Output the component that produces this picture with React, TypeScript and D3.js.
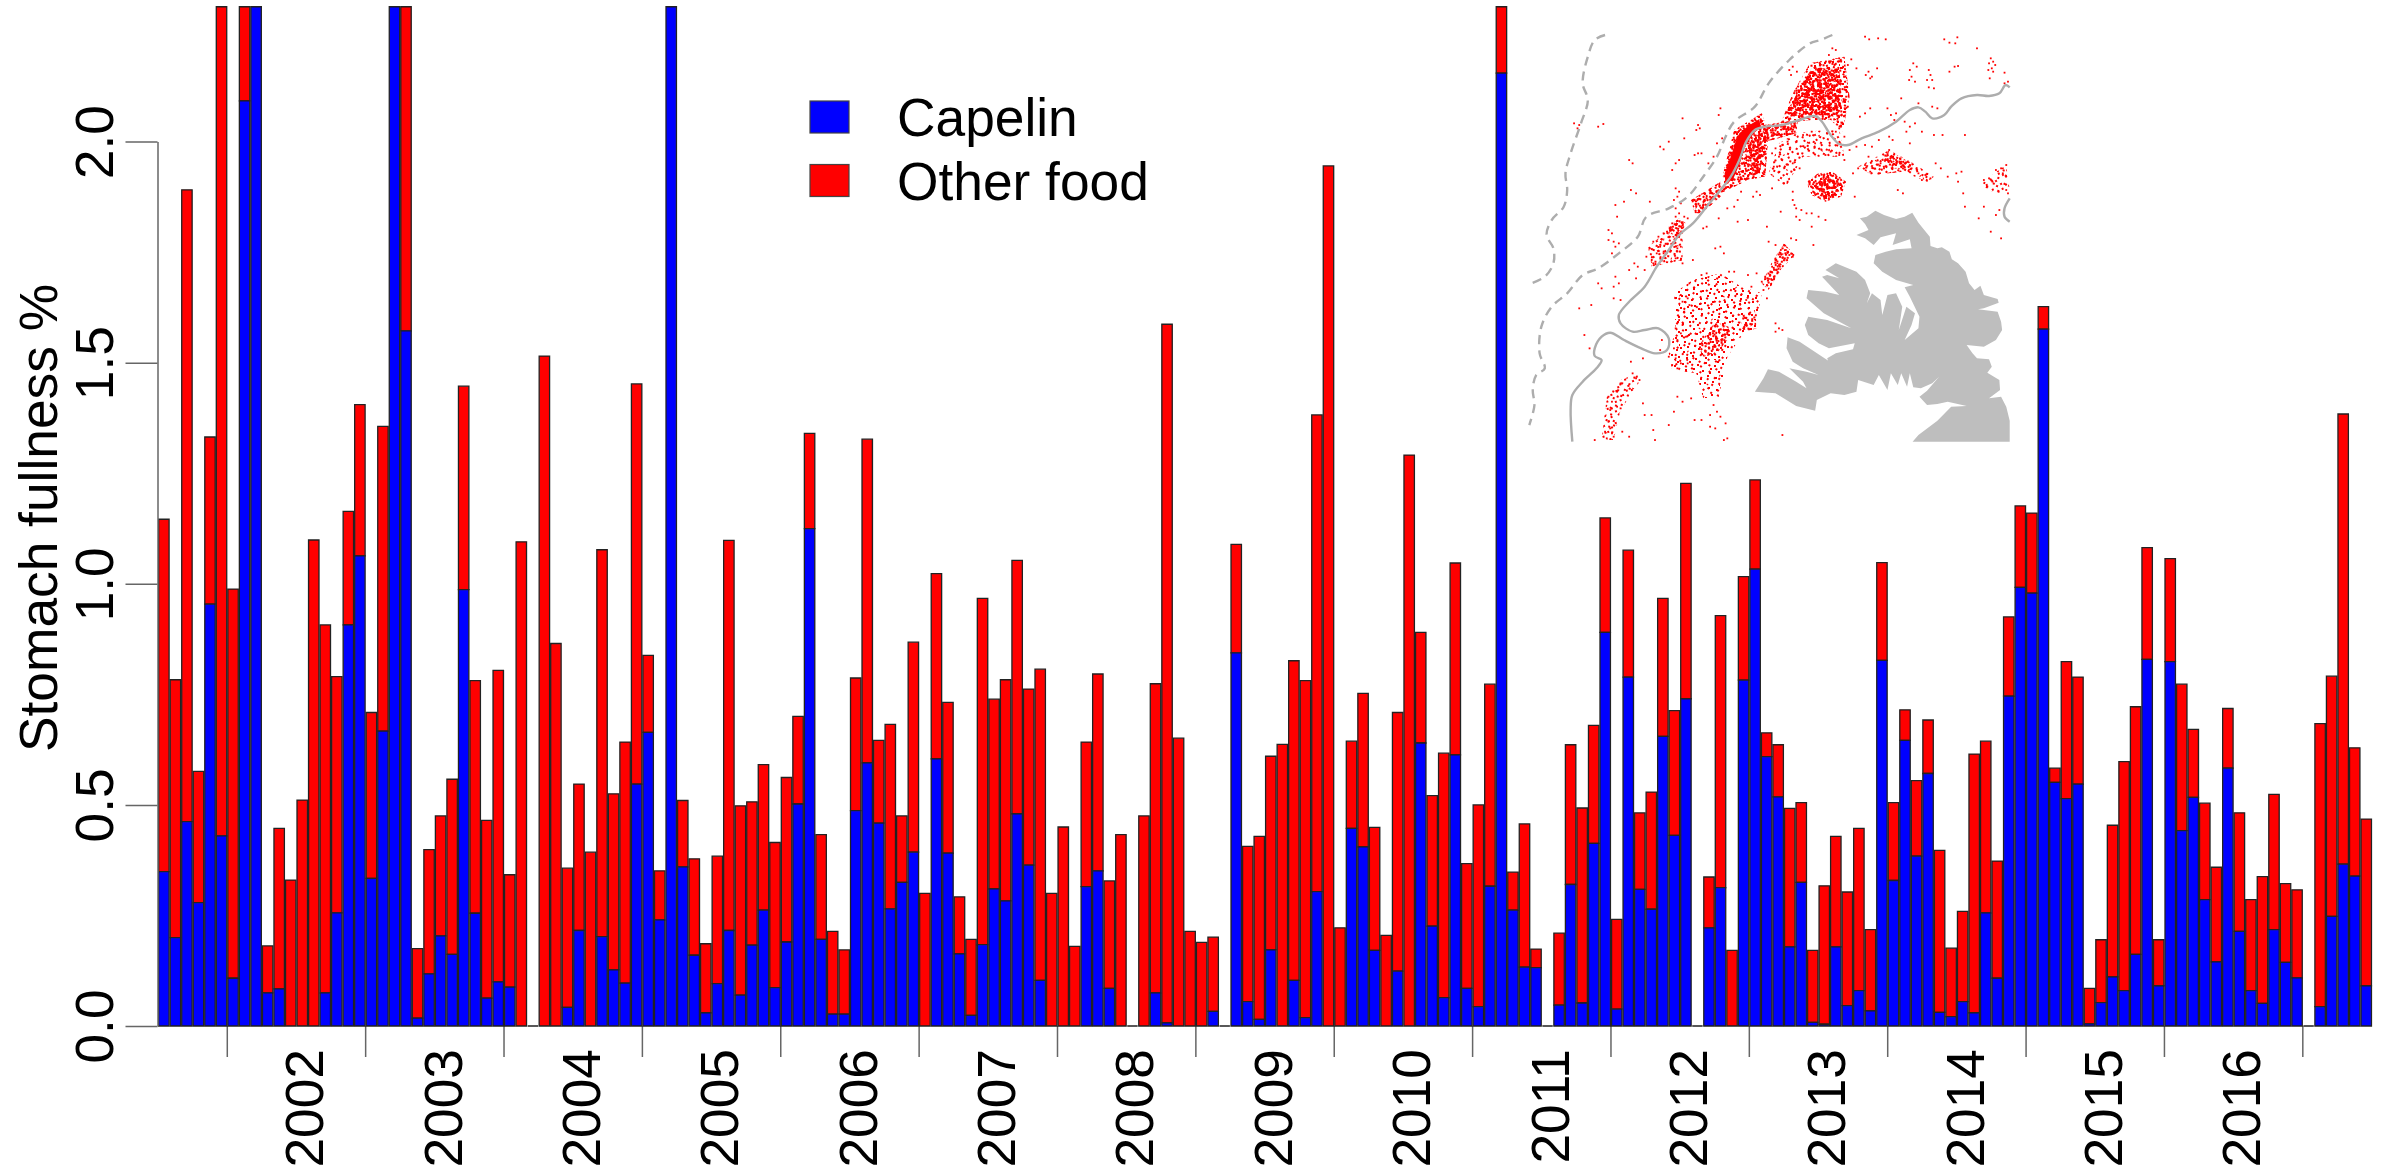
import React, { useEffect, useRef } from 'react';
import * as d3 from 'd3';

// monthly means, Jul 2001 - Jun 2017. Bars that run off the top are read at the crop line (2.305)
const capelin = [
  .349, .2, .462, .279, .954, .43, .108, 2.092, 2.305, .075, .084, 0,
  0, 0, .075, .256, .907, 1.063, .334, .667, 2.305, 1.572, .018, .118,
  .204, .162, .987, .255, .063, .1, .088, 0, 0, 0, 0, .042,
  .216, 0, .202, .127, .097, .547, .664, .24, 2.305, .36, .16, .03,
  .096, .216, .07, .183, .262, .087, .19, .502, 1.125, .196, .027, .027,
  .487, .595, .459, .265, .325, .393, 0, .604, .391, .163, .024, .184,
  .31, .283, .48, .364, .103, 0, 0, 0, .315, .351, .085, 0,
  0, 0, .075, .007, 0, 0, 0, .033, 0, .844, .055, .015,
  .172, 0, .103, .019, .304, 0, 0, .447, .405, .171, 0, .124,
  0, .64, .226, .064, .613, .085, .044, .316, 2.155, .262, .133, .132,
  0, .047, .32, .052, .413, .89, .038, .789, .309, .264, .655, .431,
  .74, 0, .222, .313, 0, .782, 1.033, .609, .518, .179, .325, .008,
  .004, .179, .046, .08, .034, .827, .329, .646, .384, .571, .031, .021,
  .055, .03, .256, .108, .746, .992, .979, 1.576, .551, .514, .547, .005,
  .053, .111, .08, .162, .829, .091, .824, .442, .517, .286, .145, .583,
  .214, .08, .051, .218, .144, .109, 0, .044, .248, .366, .339, .091,
];

const totalFullness = [
  1.146, .783, 1.891, .576, 1.332, 2.305, .988, 2.305, 2.305, .181, .447, .33,
  .511, 1.099, .907, .79, 1.164, 1.405, .709, 1.356, 2.305, 2.305, .175, .399,
  .475, .558, 1.447, .781, .465, .804, .342, 1.095, 0, 1.515, .865, .357,
  .547, .393, 1.077, .525, .642, 1.452, .838, .351, 2.305, .51, .378, .186,
  .384, 1.098, .498, .507, .591, .415, .562, .7, 1.34, .433, .214, .172,
  .787, 1.327, .646, .682, .475, .868, .3, 1.023, .732, .292, .196, .967,
  .739, .783, 1.053, .762, .807, .3, .45, .18, .642, .796, .328, .433,
  0, .475, .774, 1.587, .651, .214, .189, .201, 0, 1.089, .406, .429,
  .61, .637, .826, .781, 1.382, 1.945, .222, .644, .752, .449, .205, .709,
  1.291, .89, .521, .617, 1.047, .367, .5, .773, 2.305, .348, .457, .174,
  0, .21, .636, .493, .68, 1.149, .241, 1.076, .482, .529, .967, .713,
  1.227, 0, .337, .928, .171, 1.016, 1.235, .663, .636, .492, .505, .171,
  .317, .429, .303, .447, .218, 1.048, .505, .715, .555, .692, .397, .176,
  .259, .615, .644, .373, .925, 1.176, 1.16, 1.627, .583, .824, .789, .085,
  .195, .454, .598, .722, 1.082, .195, 1.057, .773, .671, .504, .359, .718,
  .482, .286, .338, .524, .322, .308, 0, .684, .791, 1.384, .629, .468,
];

const yearLabels = ['2002', '2003', '2004', '2005', '2006', '2007', '2008', '2009', '2010', '2011', '2012', '2013', '2014', '2015', '2016'];
const yearStartMonths = [6, 18, 30, 42, 54, 66, 78, 90, 102, 114, 126, 138, 150, 162, 174, 186];
const yTicks = [0, 0.5, 1, 1.5, 2];
const legendItems = ['Capelin', 'Other food'];
const legendColors = ['#0000ff', '#ff0000'];

// inset map, all in map grid units
const coastline: [number, number][] = [
  [1045, 655], [1060, 672], [1070, 690], [1035, 705], [1060, 715], [1085, 735], [1105, 712], [1150, 700], [1140, 735], [1190, 718], [1195, 745], [1150, 748], [1120, 755], [1090, 765], [1085, 790], [1110, 815], [1150, 840], [1200, 855], [1175, 862], [1190, 890], [1218, 950], [1215, 985], [1175, 1020], [1195, 975], [1205, 940], [1180, 920], [1158, 990], [1168, 920], [1150, 880], [1125, 885], [1110, 945], [1105, 900], [1080, 880], [1065, 910], [1075, 880], [1060, 840], [1035, 815], [975, 790], [945, 810], [985, 835], [950, 825], [935, 830], [985, 885], [945, 875], [895, 870], [890, 895], [940, 940], [1020, 985], [950, 960], [895, 950], [885, 975], [895, 1005], [925, 1030], [955, 1045], [1030, 1030], [1025, 1048], [975, 1060], [950, 1075], [960, 1105], [985, 1105], [950, 1080], [870, 1025], [835, 1012], [832, 1045], [850, 1085], [880, 1105], [925, 1125], [890, 1115], [840, 1105], [880, 1145], [890, 1165], [860, 1145], [810, 1115], [778, 1108], [765, 1135], [740, 1175], [800, 1180], [860, 1218], [915, 1232], [920, 1200], [960, 1180], [1000, 1185], [1035, 1175], [1040, 1140], [1085, 1155], [1100, 1125], [1125, 1170], [1135, 1120], [1155, 1155], [1165, 1120], [1182, 1160], [1190, 1120], [1200, 1162], [1222, 1165], [1255, 1150], [1275, 1130], [1240, 1172], [1218, 1190], [1240, 1215], [1270, 1212], [1300, 1205], [1355, 1218], [1310, 1220], [1270, 1262], [1215, 1305], [1198, 1325], [1480, 1325], [1480, 1262], [1470, 1220], [1455, 1190], [1420, 1195], [1452, 1170], [1450, 1140], [1415, 1118], [1428, 1100], [1420, 1078], [1385, 1075], [1372, 1060], [1355, 1035], [1405, 1040], [1440, 1020], [1458, 990], [1455, 965], [1445, 935], [1388, 928], [1405, 925], [1448, 908], [1445, 897], [1405, 885], [1395, 857], [1378, 870], [1362, 850], [1352, 815], [1330, 790], [1312, 778], [1305, 755], [1283, 742], [1270, 745], [1250, 738], [1248, 710], [1232, 690], [1215, 668], [1197, 638], [1175, 650], [1150, 657], [1115, 645], [1090, 632], [1065, 650],
];
const shelfContour: [number, number][] = [
  [1480, 262], [1468, 255], [1450, 280], [1420, 288], [1385, 285], [1340, 295], [1310, 320], [1290, 345], [1255, 355], [1235, 335], [1215, 322], [1190, 330], [1150, 365], [1100, 395], [1050, 415], [1010, 435], [985, 432], [960, 405], [935, 365], [915, 348], [870, 360], [820, 375], [770, 380], [740, 390], [715, 425], [695, 480], [670, 530], [640, 570], [600, 620], [560, 670], [520, 705], [490, 750], [455, 800], [420, 860], [375, 905], [345, 945], [350, 970], [385, 995], [420, 990], [460, 985], [490, 1015], [485, 1050], [450, 1060], [410, 1045], [360, 1020], [320, 998], [295, 1010], [275, 1045], [275, 1068], [295, 1080], [280, 1105], [240, 1145], [210, 1185], [205, 1230], [210, 1325],
];
const shelfContourEast: [number, number][] = [[1480, 595], [1465, 625], [1465, 650], [1480, 665]];
const dashedOuter: [number, number][] = [
  [305, 105], [275, 120], [255, 170], [240, 250], [255, 300], [235, 370], [205, 460], [190, 520], [195, 570], [185, 620], [150, 660], [135, 705], [155, 745], [155, 790], [130, 830], [85, 852],
];
const dashedInner: [number, number][] = [
  [965, 105], [930, 120], [900, 130], [840, 180], [780, 250], [740, 320], [680, 365], [655, 410], [630, 470], [590, 530], [545, 590], [490, 625], [425, 650], [400, 710], [345, 760], [285, 805], [240, 825], [195, 880], [150, 920], [120, 980], [115, 1060], [130, 1105], [105, 1125], [95, 1170], [100, 1215], [85, 1275],
];

// areas of the station cloud where single fixes can't be told apart, and how thick each one looks
const cloudAreas: [number, number][][] = [
  [[505, 880], [560, 840], [640, 820], [700, 860], [760, 880], [745, 960], [700, 1010], [660, 1070], [635, 1190], [590, 1195], [570, 1120], [500, 1110], [490, 1060], [510, 990]],
  [[1040, 500], [1130, 450], [1200, 490], [1260, 530], [1240, 545], [1170, 515], [1080, 525]],
  [[310, 1190], [350, 1140], [400, 1120], [405, 1145], [350, 1230], [330, 1320], [295, 1320]],
  [[1405, 540], [1470, 495], [1480, 570], [1440, 580], [1400, 560]],
  [[810, 430], [860, 400], [985, 385], [1000, 470], [880, 470], [830, 560], [780, 520]],
  [[430, 740], [500, 680], [530, 700], [530, 780], [440, 800]],
  [[1110, 480], [1135, 455], [1195, 490], [1190, 510], [1140, 505]],
  [[760, 850], [790, 785], [825, 730], [855, 765], [815, 810], [780, 870]],
  [[575, 1040], [625, 965], [675, 985], [660, 1020], [630, 1060], [590, 1070]],
  [[695, 945], [740, 930], [745, 985], [705, 1000]],
  [[815, 370], [850, 280], [900, 190], [1000, 170], [1015, 290], [995, 395], [960, 360], [905, 360]],
  [[640, 580], [650, 510], [680, 390], [760, 340], [780, 400], [770, 530], [720, 540], [660, 570]],
  [[890, 545], [925, 520], [965, 515], [1005, 545], [990, 590], [945, 605], [905, 585]],
  [[555, 600], [640, 545], [640, 590], [585, 640], [565, 640]],
  [[490, 680], [520, 655], [540, 670], [520, 715], [490, 710]],
  [[765, 375], [865, 360], [860, 400], [790, 420], [760, 425]],
  [[830, 340], [860, 285], [905, 205], [985, 205], [995, 320], [975, 350], [915, 345], [870, 350]],
  [[725, 425], [755, 395], [765, 440], [755, 520], [735, 525], [722, 475]],
  [[915, 555], [945, 530], [985, 550], [975, 585], [940, 595]],
];
const cloudThickness = [2, 3, 2, 2, 2, 3, 4, 5, 5, 4, 5, 6, 6, 6, 7, 9, 9, 9, 9];
const solidCores: [number, number][][] = [
  [[695, 400], [720, 378], [752, 358], [758, 382], [738, 398], [712, 438], [697, 488], [678, 535], [655, 555], [652, 520], [670, 470], [684, 425]],
];
// one tile of specks, repeated at several angles to fill the areas above
const speckTile: [number, number][] = [
  [2, 3], [9, 1], [17, 4], [25, 2], [34, 5], [5, 9], [13, 8], [22, 10], [30, 8], [38, 11], [1, 15], [8, 14], [16, 13], [27, 15], [35, 17], [4, 21], [11, 19], [20, 18], [24, 22], [32, 21], [39, 24], [7, 26], [14, 25], [18, 28], [28, 27], [36, 29], [3, 31], [10, 32], [21, 33], [31, 34], [38, 36], [6, 37], [15, 38], [25, 37], [34, 39], [12, 35], [19, 23], [29, 12], [37, 1], [0, 27],
];
const speckAngles = [0, 37, 71, 113, 151, 23, 59, 97, 131, 167, 11, 83];

const stations: [number, number][] = [
  [1060, 110], [1072, 118], [1098, 115], [1120, 118], [1290, 118], [1305, 128], [1322, 130], [1328, 112], [1385, 145], [1425, 175], [1432, 185], [1420, 190], [1438, 195], [1428, 205], [1418, 210], [1432, 215], [1422, 235], [1465, 218], [1475, 245], [1465, 250], [1200, 190], [1210, 200], [1190, 210], [1195, 230], [1188, 240], [1205, 245], [1245, 210], [1250, 225], [1240, 240], [1255, 240], [1245, 262], [1260, 265], [1305, 215], [1320, 200], [1330, 198], [1070, 215], [1080, 230], [1062, 225], [1095, 205], [1075, 235],
  [965, 145], [975, 150], [955, 165], [985, 175], [1020, 178], [1035, 205], [1010, 195], [850, 200], [840, 210], [862, 215], [845, 225], [1005, 290], [1010, 320], [985, 385], [975, 395], [990, 380], [1075, 325], [1060, 340], [1045, 350], [1125, 325], [1135, 345], [1150, 340], [1165, 295], [1145, 360], [1175, 365], [1190, 380], [1205, 370], [1180, 395], [1215, 310], [1255, 320], [1270, 325], [1260, 405], [1225, 395], [1350, 405], [1285, 405],
  [1130, 450], [1125, 465], [1140, 470], [1150, 480], [1165, 485], [1175, 490], [1190, 495], [1120, 480], [1105, 490], [1115, 505], [1085, 505], [1075, 515], [1040, 505], [1025, 520], [1060, 495], [1150, 495], [1170, 505], [1195, 505], [1215, 520], [1235, 525], [1250, 535], [1225, 540], [1265, 490], [1300, 530], [1325, 520], [1340, 515], [1330, 545], [1345, 580], [1350, 620], [1155, 570], [1170, 580], [1280, 505], [1405, 540], [1420, 535], [1440, 510], [1455, 505], [1470, 495], [1460, 520], [1430, 545], [1415, 560], [1470, 570], [1475, 580], [1450, 630], [1440, 645], [1390, 655], [1425, 695], [1455, 715], [1405, 620], [1100, 520], [1030, 590],
  [1060, 435], [1035, 440], [1015, 450], [985, 465], [1000, 480], [960, 455], [945, 465], [1070, 470], [1080, 440], [1130, 410], [1100, 420], [1190, 430], [1140, 420], [1000, 410], [915, 430], [880, 405], [905, 395], [850, 490], [855, 510], [870, 505], [800, 445], [810, 470], [790, 460], [820, 435], [835, 425], [795, 500], [835, 545], [850, 575], [745, 575], [755, 585], [735, 590], [700, 575], [690, 600], [680, 620], [660, 625], [635, 655], [600, 680], [590, 685], [690, 665], [720, 660], [850, 600], [860, 625], [875, 630], [890, 640], [905, 640], [860, 650], [925, 650], [870, 660], [855, 615], [905, 680], [945, 660], [825, 550], [815, 635], [790, 565], [775, 680],
  [530, 355], [575, 375], [570, 390], [580, 385], [535, 415], [640, 325], [635, 345], [645, 415], [630, 430], [465, 440], [475, 448], [490, 425], [575, 460], [565, 465], [585, 460], [510, 490], [520, 480], [500, 510], [605, 490], [620, 470], [215, 370], [230, 375], [225, 385], [285, 380], [300, 372], [375, 480], [385, 490], [380, 570], [395, 580], [435, 605], [360, 605], [335, 615], [340, 650],
  [510, 565], [520, 575], [515, 590], [505, 600], [525, 610], [510, 625], [520, 640], [535, 650], [545, 655], [510, 650], [500, 670], [485, 695], [475, 700], [460, 710], [445, 725], [435, 745], [465, 740], [455, 760], [475, 760], [425, 770], [445, 790], [505, 730], [515, 745], [525, 740], [510, 775], [525, 780], [315, 690], [325, 700], [315, 720], [330, 725], [345, 730], [335, 740], [325, 760], [390, 790], [400, 800], [375, 810], [395, 835], [420, 810], [335, 830], [345, 850], [330, 860], [285, 850], [295, 865], [330, 895], [350, 900], [265, 915], [230, 925],
  [825, 735], [830, 750], [815, 760], [840, 765], [800, 780], [810, 795], [790, 800], [785, 815], [805, 820], [770, 830], [760, 845], [775, 855], [790, 840], [765, 870], [745, 820], [720, 825], [850, 770], [800, 735], [780, 725], [860, 720], [845, 715], [910, 735], [775, 895], [700, 885], [715, 900], [730, 860], [680, 815], [665, 815], [640, 740], [650, 760], [625, 745], [600, 820], [585, 825], [560, 780], [530, 790], [550, 850], [540, 870], [525, 885], [545, 895], [530, 905], [550, 915], [535, 935], [520, 960], [530, 975], [510, 985], [525, 1000], [540, 1010], [515, 1020], [505, 1045], [490, 1070], [510, 1075], [525, 1090], [500, 1095], [515, 1105], [545, 1090],
  [620, 1215], [630, 1235], [640, 1250], [610, 1245], [655, 1270], [610, 1280], [625, 1285], [585, 1260], [565, 1260], [515, 1190], [530, 1205], [555, 1195], [505, 1235], [490, 1275], [445, 1290], [650, 1320], [660, 1315], [820, 1305], [415, 1210], [420, 1245], [440, 1245], [385, 1120], [395, 1135], [405, 1140], [380, 1085], [415, 1075], [350, 1150], [340, 1175], [315, 1190], [325, 1205], [340, 1220], [350, 1225], [320, 1230], [315, 1265], [320, 1285], [305, 1295], [325, 1300], [330, 1310], [310, 1315], [355, 1295], [375, 1310], [275, 1320], [450, 1320], [245, 1005], [260, 1045], [470, 1020], [465, 1050], [800, 970], [810, 985], [820, 990], [800, 995],
];

const WIDTH = 2387;
const HEIGHT = 1174;
const FONT = '"Liberation Sans", Helvetica, Arial, sans-serif';
const FONT_SIZE = '53.3px';

const App: React.FC = () => {
  const svgRef = useRef<SVGSVGElement>(null);

  useEffect(() => {
    if (!svgRef.current) return;
    const svg = d3.select(svgRef.current);
    svg.selectAll('*').remove();

    const defs = svg.append('defs');
    defs.append('filter').attr('id', 'soft')
      .attr('x', 0).attr('y', 0).attr('width', WIDTH).attr('height', HEIGHT)
      .attr('filterUnits', 'userSpaceOnUse')
      .append('feGaussianBlur').attr('stdDeviation', 0.55);

    speckAngles.forEach((angle, k) => {
      const pattern = defs.append('pattern')
        .attr('id', `speck-${k}`)
        .attr('patternUnits', 'userSpaceOnUse')
        .attr('width', 40).attr('height', 40)
        .attr('patternTransform', `rotate(${angle})`);
      pattern.selectAll('rect')
        .data(speckTile)
        .enter().append('rect')
        .attr('x', d => d[0]).attr('y', d => d[1])
        .attr('width', 2).attr('height', 2)
        .attr('fill', '#ff0000');
    });

    const g = svg.append('g').attr('filter', 'url(#soft)').style('font-family', FONT);

    const xEdge = d3.scaleLinear().domain([0, 192]).range([158.1, 2372]);
    const yScale = d3.scaleLinear().domain([0, 2]).range([1026, 141.6]);
    const barPad = 0.55;

    const barPath = (i: number, from: number, to: number) => {
      const p = d3.path();
      p.rect(xEdge(i) + barPad, yScale(to), xEdge(i + 1) - xEdge(i) - 2 * barPad, yScale(from) - yScale(to));
      return p.toString();
    };

    // X axis ticks, no label on the last one
    g.selectAll('.tick-x')
      .data(yearStartMonths)
      .enter().append('line')
      .attr('x1', d => xEdge(d))
      .attr('x2', d => xEdge(d))
      .attr('y1', 1026)
      .attr('y2', 1057)
      .attr('stroke', '#666')
      .attr('stroke-width', 1.5);

    // Bars
    const months = d3.range(capelin.length);
    g.selectAll('.other')
      .data(months)
      .enter().append('path')
      .attr('d', i => barPath(i, capelin[i], totalFullness[i]))
      .attr('fill', '#ff0000')
      .attr('stroke', '#222')
      .attr('stroke-width', 1.3);
    g.selectAll('.capelin')
      .data(months.filter(i => capelin[i] > 0))
      .enter().append('path')
      .attr('d', i => barPath(i, 0, capelin[i]))
      .attr('fill', '#0000ff')
      .attr('stroke', '#222')
      .attr('stroke-width', 1.3);

    // Y axis
    const yAxis = g.append('g')
      .attr('transform', 'translate(157.5,0)')
      .call(d3.axisLeft(yScale).tickValues(yTicks).tickSize(32).tickSizeOuter(0).tickFormat(d3.format('.1f') as any));
    yAxis.selectAll('path, line').attr('stroke', '#666').attr('stroke-width', 1.5);
    yAxis.selectAll('text')
      .attr('x', null).attr('y', null).attr('dy', null)
      .attr('transform', 'translate(-44.5,0) rotate(-90)')
      .attr('text-anchor', 'middle')
      .attr('fill', '#000')
      .style('font-size', FONT_SIZE)
      .style('font-family', FONT);

    g.append('text')
      .attr('transform', 'translate(57,518) rotate(-90)')
      .attr('text-anchor', 'middle')
      .style('font-size', FONT_SIZE)
      .text('Stomach fullness %');

    // Year labels read upwards and end just under the ticks
    g.selectAll('.year')
      .data(yearLabels)
      .enter().append('text')
      .attr('transform', (d, i) => `translate(${xEdge(yearStartMonths[i] + 6.5) + 21},1049) rotate(-90)`)
      .attr('text-anchor', 'end')
      .style('font-size', FONT_SIZE)
      .text(d => d);

    // Legend
    const legend = g.append('g').selectAll('g')
      .data(legendItems)
      .enter().append('g')
      .attr('transform', (d, i) => `translate(810,${101 + i * 63.5})`);
    legend.append('rect')
      .attr('width', 39).attr('height', 32)
      .attr('fill', (d, i) => legendColors[i])
      .attr('stroke', '#444').attr('stroke-width', 1.2);
    legend.append('text')
      .attr('x', 87).attr('y', 35)
      .style('font-size', FONT_SIZE)
      .text(d => d);

    // Inset map
    const mapX = d3.scaleLinear().domain([85, 1480]).range([1529.3, 2009.7]);
    const mapY = d3.scaleLinear().domain([105, 1325]).range([35, 441.7]);
    const mapLine = d3.line<[number, number]>().x(d => mapX(d[0])).y(d => mapY(d[1])).curve(d3.curveCatmullRom);
    const polyLine = d3.line<[number, number]>().x(d => mapX(d[0])).y(d => mapY(d[1]));
    const map = svg.append('g');

    map.append('path').attr('d', polyLine(coastline) + 'Z').attr('fill', '#bebebe');
    cloudAreas.forEach((area, a) => {
      d3.range(cloudThickness[a]).forEach(k => {
        map.append('path')
          .attr('d', polyLine(area) + 'Z')
          .attr('fill', `url(#speck-${(a + k) % speckAngles.length})`);
      });
    });
    map.selectAll('.core')
      .data(solidCores)
      .enter().append('path')
      .attr('d', d => polyLine(d) + 'Z')
      .attr('fill', '#ff0000');
    map.selectAll('.station')
      .data(stations)
      .enter().append('rect')
      .attr('x', d => mapX(d[0]) - 0.9)
      .attr('y', d => mapY(d[1]) - 0.9)
      .attr('width', 1.8)
      .attr('height', 1.8)
      .attr('fill', '#ff0000');
    [shelfContour, shelfContourEast].forEach(c => {
      map.append('path').attr('d', mapLine(c)).attr('fill', 'none').attr('stroke', '#adadad').attr('stroke-width', 2.4);
    });
    [dashedOuter, dashedInner].forEach(c => {
      map.append('path').attr('d', mapLine(c)).attr('fill', 'none').attr('stroke', '#adadad').attr('stroke-width', 2.4).attr('stroke-dasharray', '9,6');
    });
  }, []);

  return (
    <svg ref={svgRef} width={WIDTH} height={HEIGHT} style={{ position: 'absolute', left: 0, top: 0, display: 'block', background: 'white' }}></svg>
  );
};

export default App;
